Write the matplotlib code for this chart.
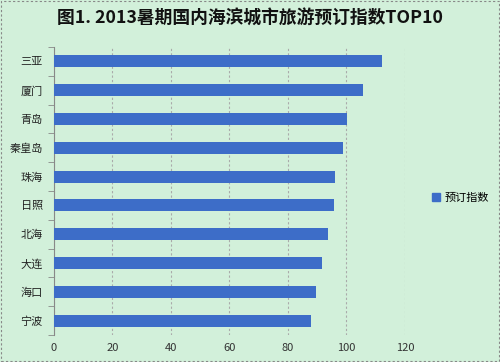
import matplotlib
matplotlib.use("Agg")
import matplotlib.pyplot as plt
from matplotlib.patches import Rectangle

plt.rcParams['font.family'] = ['Noto Sans CJK SC', 'DejaVu Sans']

cities = ["三亚", "厦门", "青岛", "秦皇岛", "珠海", "日照", "北海", "大连", "海口", "宁波"]
values = [112.1, 105.5, 100.3, 98.7, 96.2, 95.7, 93.6, 91.6, 89.5, 87.9]
xticks = [0, 20, 40, 60, 80, 100, 120]
series_name = "预订指数"
title = "图1. 2013暑期国内海滨城市旅游预订指数TOP10"

bg = "#d2f0da"
bar_color = "#3d6dc8"

fig = plt.figure(figsize=(5, 3.62), dpi=100)
fig.patch.set_facecolor(bg)
ax = fig.add_axes([54/500, 1-335/362, (405-54)/500, (335-47)/362])
ax.set_facecolor(bg)

n = len(cities)
ypos = list(range(n))
ax.barh(ypos, values, height=0.42, color=bar_color, zorder=3, label=series_name)
ax.set_ylim(n - 0.5, -0.5)
ax.set_xlim(0, 120)
ax.set_xticks(xticks)
ax.set_xticklabels([str(t) for t in xticks], fontsize=8, color="#333333")
ax.set_yticks(ypos)
ax.set_yticklabels(cities, fontsize=8, color="#222222")
ax.set_yticks([i - 0.5 for i in range(n + 1)], minor=True)
ax.tick_params(axis='y', which='major', length=0, pad=8)
ax.tick_params(axis='y', which='minor', length=4, color="#888888", direction='out')
ax.tick_params(axis='x', length=0, pad=6)
ax.grid(axis='x', color="#aaaaaa", linestyle=(0, (2, 2)), linewidth=0.8, zorder=0)
for s in ["top", "right", "bottom"]:
    ax.spines[s].set_visible(False)
ax.spines["left"].set_color("#888888")
ax.spines["left"].set_linewidth(0.8)

fig.text(0.5, 1 - 18/362, title, ha='center', va='center', fontsize=12.8, fontweight='bold', color="#111111")

leg = fig.legend(handles=[Rectangle((0, 0), 1, 1, color=bar_color)], labels=[series_name],
                 loc='center left', bbox_to_anchor=(422/500, 1 - 198/362), frameon=False,
                 fontsize=8, handlelength=0.7, handleheight=0.7, handletextpad=0.4)

border = Rectangle((0.002, 0.003), 0.996, 0.994, transform=fig.transFigure, fill=False,
                   edgecolor="#888888", linestyle=(0, (2, 2)), linewidth=0.8)
fig.patches.append(border)

fig.savefig("out.png", dpi=100, facecolor=bg)
